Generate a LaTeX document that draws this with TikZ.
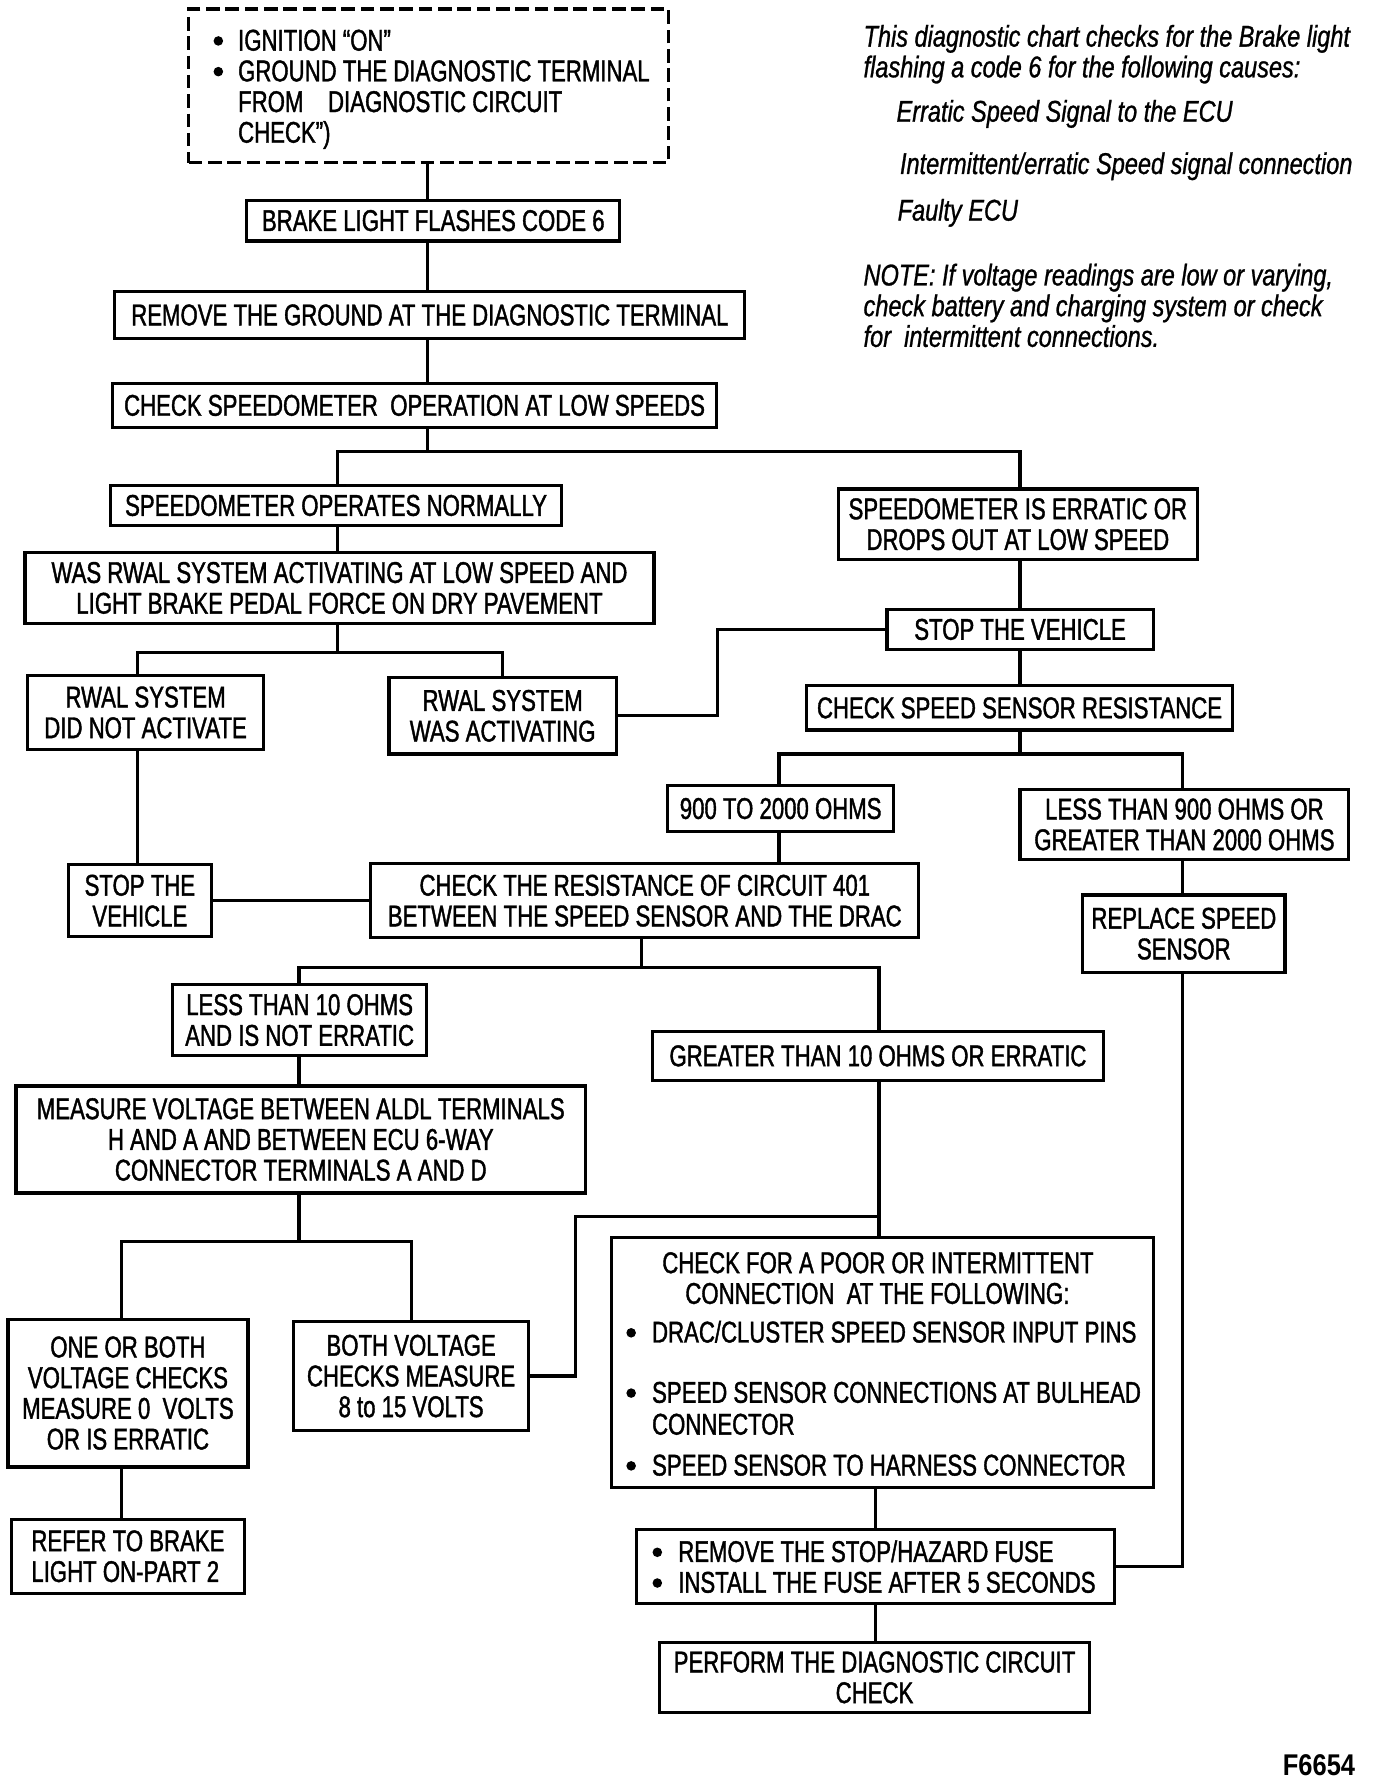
\documentclass[tikz,border=0pt]{standalone}
\usepackage{fontspec}
\setmainfont{Liberation Sans}[FakeStretch=0.74,FakeBold=1.3]
\newfontfamily\itfont{Liberation Sans}[FakeStretch=0.785,FakeBold=0.9]
\newfontfamily\bffont{Liberation Sans}[FakeStretch=0.85]
\newcommand\fs{\fontsize{15pt}{15.37pt}\selectfont}
\begin{document}
\begin{tikzpicture}[x=0.02cm,y=-0.02cm,line width=1.6pt,
  box/.style={draw,line width=1.6pt,inner sep=0pt,align=center,font=\fs},
  dbox/.style={draw,line width=1.6pt,inner sep=0pt,dash pattern=on 0.24cm off 0.1cm},
  sz/.style 2 args={minimum width=#1*0.02cm,minimum height=#2*0.02cm},
  txt/.style={inner sep=0pt,font=\fs,anchor=base west},
  ctxt/.style={inner sep=0pt,font=\fs,anchor=base},
  itx/.style={inner sep=0pt,font=\itfont\itshape\fs,anchor=base west},
  dot/.style={fill=black,draw=none},
  conn/.style={line width=1.6pt}]
\useasboundingbox[fill=white] (0,0) rectangle (1210,1567);

% ---- top dashed box
\node[dbox,sz={422}{135}] (ign) at (377,75.5) {};
\fill[dot] (192,36) circle (4.2);
\fill[dot] (192,63) circle (4.2);
\node[txt] (ign1) at (208,44.5) {IGNITION ``ON''};
\node[txt] (ign2) at (208,71.5) {GROUND THE DIAGNOSTIC TERMINAL};
\node[txt] (ign3) at (208,98.5) {FROM\ \ \ \ DIAGNOSTIC CIRCUIT};
\node[txt] (ign4) at (208,125.5) {CHECK'')};

% ---- boxes
\node[box,sz={328}{36}] (brake) at (381,194) {BRAKE LIGHT FLASHES CODE 6};
\node[box,sz={554}{42}] (remove) at (378,277) {REMOVE THE GROUND AT THE DIAGNOSTIC TERMINAL};
\node[box,sz={531}{39}] (chk) at (364.5,356.5) {CHECK SPEEDOMETER\ \ OPERATION AT LOW SPEEDS};
\node[box,sz={397}{35}] (norm) at (295.5,444.5) {SPEEDOMETER OPERATES NORMALLY};
\node[box,sz={316}{62}] (errat) at (895,461) {SPEEDOMETER IS ERRATIC OR\\DROPS OUT AT LOW SPEED};
\node[box,sz={553}{62}] (rwalq) at (298.5,517) {WAS RWAL SYSTEM ACTIVATING AT LOW SPEED AND\\LIGHT BRAKE PEDAL FORCE ON DRY PAVEMENT};
\node[box,sz={208}{65}] (rnot) at (128,626.5) {RWAL SYSTEM\\DID NOT ACTIVATE};
\node[box,sz={200}{67}] (rwas) at (442,629.5) {RWAL SYSTEM\\WAS ACTIVATING};
\node[box,sz={234}{35}] (stopa) at (897,553.5) {STOP THE VEHICLE};
\node[box,sz={375}{39}] (css) at (896.5,622.5) {CHECK SPEED SENSOR RESISTANCE};
\node[box,sz={199}{40}] (ohm) at (686.5,711) {900 TO 2000 OHMS};
\node[box,sz={289}{62}] (ltn) at (1041.5,725) {LESS THAN 900 OHMS OR\\GREATER THAN 2000 OHMS};
\node[box,sz={178}{68}] (repl) at (1041,821) {REPLACE SPEED\\SENSOR};
\node[box,sz={482}{65}] (res) at (567,792) {CHECK THE RESISTANCE OF CIRCUIT 401\\BETWEEN THE SPEED SENSOR AND THE DRAC};
\node[box,sz={126}{63}] (stopb) at (123,792) {STOP THE\\VEHICLE};
\node[box,sz={223}{62}] (ltt) at (263.5,897) {LESS THAN 10 OHMS\\AND IS NOT ERRATIC};
\node[box,sz={396}{43}] (gtt) at (772,928.5) {GREATER THAN 10 OHMS OR ERRATIC};
\node[box,sz={501}{94}] (meas) at (264.5,1002) {MEASURE VOLTAGE BETWEEN ALDL TERMINALS\\H AND A AND BETWEEN ECU 6-WAY\\CONNECTOR TERMINALS A AND D};
\node[box,sz={211}{130}] (one) at (112.5,1225) {ONE OR BOTH\\VOLTAGE CHECKS\\MEASURE 0\ \ VOLTS\\OR IS ERRATIC};
\node[box,sz={207}{96}] (both) at (361.5,1210) {BOTH VOLTAGE\\CHECKS MEASURE\\8 to 15 VOLTS};
\node[box,sz={205}{65},align=left] (refer) at (112.5,1368.5) {REFER TO BRAKE\\LIGHT ON-PART 2};

\node[box,sz={476}{220}] (poor) at (776,1198) {};
\node[ctxt] (poor1) at (772,1119.5) {CHECK FOR A POOR OR INTERMITTENT};
\node[ctxt] (poor2) at (771.5,1146.5) {CONNECTION\ \ AT THE FOLLOWING:};
\fill[dot] (555,1172) circle (4.2);
\fill[dot] (555,1225) circle (4.2);
\fill[dot] (555,1289) circle (4.2);
\node[txt] (poor3) at (572,1180.5) {DRAC/CLUSTER SPEED SENSOR INPUT PINS};
\node[txt] (poor4) at (572,1233.5) {SPEED SENSOR CONNECTIONS AT BULHEAD};
\node[txt] (poor5) at (572,1261.5) {CONNECTOR};
\node[txt] (poor6) at (572,1297.5) {SPEED SENSOR TO HARNESS CONNECTOR};

\node[box,sz={420}{65}] (fuse) at (770,1377.5) {};
\fill[dot] (578,1365) circle (4.2);
\fill[dot] (578,1392) circle (4.2);
\node[txt] (fuse1) at (595,1373.5) {REMOVE THE STOP/HAZARD FUSE};
\node[txt] (fuse2) at (595,1400.5) {INSTALL THE FUSE AFTER 5 SECONDS};

\node[box,sz={378}{62}] (perf) at (769,1475) {PERFORM THE DIAGNOSTIC CIRCUIT\\CHECK};

% ---- side text
\node[itx] (n1) at (758,41) {This diagnostic chart checks for the Brake light};
\node[itx] (n2) at (758,68) {flashing a code 6 for the following causes:};
\node[itx] (n3) at (787,107) {Erratic Speed Signal to the ECU};
\node[itx] (n4) at (790,153) {Intermittent/erratic Speed signal connection};
\node[itx] (n5) at (788,194) {Faulty ECU};
\node[itx] (n6) at (758,251) {NOTE: If voltage readings are low or varying,};
\node[itx] (n7) at (758,278) {check battery and charging system or check};
\node[itx] (n8) at (758,305) {for\ \ intermittent connections.};
\node[inner sep=0pt,anchor=base east,font=\bffont\bfseries\fs] (fig) at (1193,1561) {F6654};

% ---- junction coordinates
\coordinate (c1) at (376,397);
\coordinate (c2) at (297,397);
\coordinate (c3) at (897,397);
\coordinate (c4) at (297,574);
\coordinate (c5) at (121,574);
\coordinate (c6) at (442,574);
\coordinate (c8) at (631,553.5);
\coordinate (c9) at (897,663);
\coordinate (c10) at (685,663);
\coordinate (c11) at (1040,663);
\coordinate (c12) at (1040,1377.5);
\coordinate (c13) at (564,851);
\coordinate (c14) at (263,851);
\coordinate (c15) at (773,851);
\coordinate (c16) at (263,1092);
\coordinate (c17) at (107,1092);
\coordinate (c18) at (362,1092);
\coordinate (c19) at (506,1070);
\coordinate (c20) at (770,1300);

% ---- connectors
\draw[conn] (ign.south -| c1) -- (brake.north -| c1);
\draw[conn] (brake.south -| c1) -- (remove.north -| c1);
\draw[conn] (remove.south -| c1) -- (chk.north -| c1);
\draw[conn] (chk.south -| c1) -- (c1);
\draw[conn] (norm.north -| c2) -- (c2) -- (c3) -- (errat.north -| c3);
\draw[conn] (norm.south -| c2) -- (rwalq.north -| c2);
\draw[conn] (rwalq.south -| c4) -- (c4);
\draw[conn] (rnot.north -| c5) -- (c5) -- (c6) -- (rwas.north -| c6);
\draw[conn] (rwas.east) -| (c8) -- (stopa.west);
\draw[conn] (errat.south -| c3) -- (stopa.north -| c3);
\draw[conn] (stopa.south -| c3) -- (css.north -| c3);
\draw[conn] (css.south -| c9) -- (c9);
\draw[conn] (ohm.north -| c10) -- (c10) -- (c11) -- (ltn.north -| c11);
\draw[conn] (ltn.south -| c11) -- (repl.north -| c11);
\draw[conn] (repl.south -| c11) -- (c12) -- (fuse.east |- c12);
\draw[conn] (ohm.south -| c10) -- (res.north -| c10);
\draw[conn] (rnot.south -| c5) -- (stopb.north -| c5);
\draw[conn] (stopb.east) -- (res.west);
\draw[conn] (res.south -| c13) -- (c13);
\draw[conn] (ltt.north -| c14) -- (c14) -- (c15) -- (gtt.north -| c15);
\draw[conn] (ltt.south -| c14) -- (meas.north -| c14);
\draw[conn] (meas.south -| c16) -- (c16);
\draw[conn] (one.north -| c17) -- (c17) -- (c18) -- (both.north -| c18);
\draw[conn] (both.east) -| (c19) -- (c19 -| c15);
\draw[conn] (gtt.south -| c15) -- (poor.north -| c15);
\draw[conn] (poor.south -| c20) -- (fuse.north -| c20);
\draw[conn] (fuse.south -| c20) -- (perf.north -| c20);
\draw[conn] (one.south -| c17) -- (refer.north -| c17);
\end{tikzpicture}
\end{document}
